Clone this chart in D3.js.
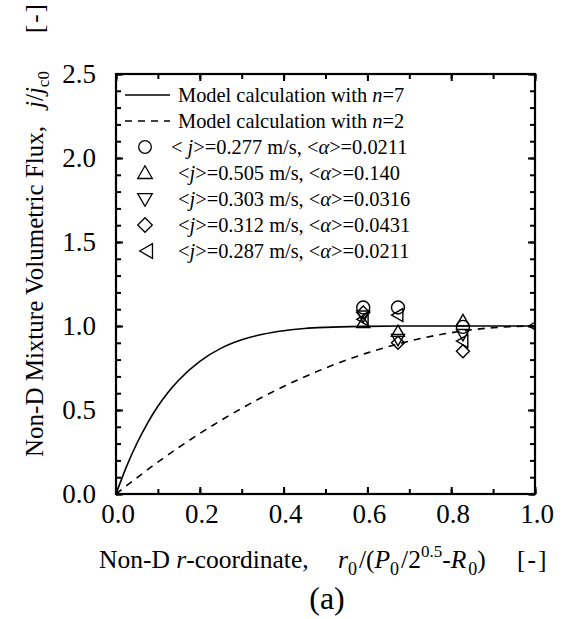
<!DOCTYPE html>
<html><head><meta charset="utf-8">
<script src="https://cdn.jsdelivr.net/npm/d3@7"></script>
<style>
body{margin:0;background:#fff}
svg text{font-family:"Liberation Serif","Times New Roman",serif;fill:#000;white-space:pre}
</style></head>
<body><svg id="c" width="564" height="619"></svg>
<script>
// ---- data ----
const xTicksMajor = [0.0, 0.2, 0.4, 0.6, 0.8, 1.0];
const yTicksMajor = [0.0, 0.5, 1.0, 1.5, 2.0, 2.5];
// curve n=7
const curveN7X = [0, 0.025, 0.05, 0.075, 0.1, 0.125, 0.15, 0.2, 0.25, 0.3, 0.35, 0.4, 0.45, 0.5, 0.6, 0.7, 0.8, 0.9, 1.0];
const curveN7Y = [0, 0.163, 0.302, 0.421, 0.522, 0.607, 0.679, 0.790, 0.867, 0.918, 0.951, 0.972, 0.985, 0.992, 0.998, 1.0, 1.0, 1.0, 1.0];
// curve n=2
const curveN2X = [0, 0.1, 0.2, 0.3, 0.4, 0.5, 0.6, 0.7, 0.8, 0.9, 1.0];
const curveN2Y = [0, 0.19, 0.36, 0.51, 0.64, 0.75, 0.84, 0.91, 0.96, 0.99, 1.0];
// measurement positions
const measX = [0.59, 0.673, 0.828, 1.0];
const circleY   = [1.11, 1.11, 0.995, null];  // <j>=0.277
const upTriY    = [1.02, 0.967, 1.03, null];  // <j>=0.505
const downTriY  = [1.06, 0.92, 0.95, null];   // <j>=0.303
const diamondY  = [1.08, 0.90, 0.85, null];   // <j>=0.312
const leftTriY  = [1.04, 1.065, 0.91, 1.0];   // <j>=0.287
const seriesNames = ["circle","up","down","diamond","left"];
const seriesVals = [circleY, upTriY, downTriY, diamondY, leftTriY];
const legendJ = ["0.277","0.505","0.303","0.312","0.287"];
const legendA = ["0.0211","0.140","0.0316","0.0431","0.0211"];

// ---- layout ----
const svg = d3.select("#c");
const L=116, R=535, T=74, B=494;
const x = d3.scaleLinear().domain([0,1]).range([L,R]);
const y = d3.scaleLinear().domain([0,2.5]).range([B,T]);

svg.append("clipPath").attr("id","plotclip").append("rect")
  .attr("x",L).attr("y",T).attr("width",R-L).attr("height",B-T);

function marker(type, s){
  if(type==="circle") return `M${s},0A${s},${s} 0 1,1 ${-s},0A${s},${s} 0 1,1 ${s},0Z`;
  if(type==="up") return `M0,${-s}L${s},${s*0.75}L${-s},${s*0.75}Z`;
  if(type==="down") return `M0,${s}L${s},${-s*0.75}L${-s},${-s*0.75}Z`;
  if(type==="left") return `M${-s},0L${s*0.75},${-s}L${s*0.75},${s}Z`;
  if(type==="diamond") return `M0,${-s}L${s},0L0,${s}L${-s},0Z`;
}

// curves
const line = d3.line().x(d=>x(d[0])).y(d=>y(d[1])).curve(d3.curveMonotoneX);
svg.append("path").datum(curveN7X.map((v,i)=>[v,curveN7Y[i]]))
  .attr("d",line).attr("fill","none").attr("stroke","#000").attr("stroke-width",1.6);
svg.append("path").datum(curveN2X.map((v,i)=>[v,curveN2Y[i]]))
  .attr("d",line).attr("fill","none").attr("stroke","#000").attr("stroke-width",1.6)
  .attr("stroke-dasharray","7,6");

// markers
const mg = svg.append("g").attr("clip-path","url(#plotclip)");
seriesNames.forEach((nm,k)=>{
  mg.append("g").selectAll("path")
    .data(measX.map((v,i)=>[v,seriesVals[k][i]]).filter(d=>d[1]!==null))
    .enter().append("path")
    .attr("transform",d=>`translate(${x(d[0])},${y(d[1])})`)
    .attr("d",marker(nm,6.5)).attr("fill","none").attr("stroke","#000").attr("stroke-width",1.4);
});

// axes
const fmt = d3.format(".1f");
const minorX = d3.range(0,1.0001,0.1);
const minorY = d3.range(0,2.5001,0.1);
function styleAxis(g){ g.select(".domain").remove(); g.selectAll("line").attr("stroke","#000").attr("stroke-width",2); }
svg.append("g").attr("transform",`translate(0,${B})`)
  .call(d3.axisBottom(x).tickValues(minorX).tickSize(-5).tickFormat("")).call(styleAxis);
svg.append("g").attr("transform",`translate(0,${T})`)
  .call(d3.axisTop(x).tickValues(minorX).tickSize(-5).tickFormat("")).call(styleAxis);
svg.append("g").attr("transform",`translate(${L},0)`)
  .call(d3.axisLeft(y).tickValues(minorY).tickSize(-5).tickFormat("")).call(styleAxis);
svg.append("g").attr("transform",`translate(${R},0)`)
  .call(d3.axisRight(y).tickValues(minorY).tickSize(-5).tickFormat("")).call(styleAxis);
svg.append("g").attr("transform",`translate(0,${B})`)
  .call(d3.axisBottom(x).tickValues(xTicksMajor).tickSize(-7).tickFormat("")).call(styleAxis);
svg.append("g").attr("transform",`translate(0,${T})`)
  .call(d3.axisTop(x).tickValues(xTicksMajor).tickSize(-7).tickFormat("")).call(styleAxis);
svg.append("g").attr("transform",`translate(${L},0)`)
  .call(d3.axisLeft(y).tickValues(yTicksMajor).tickSize(-7).tickFormat("")).call(styleAxis);
svg.append("g").attr("transform",`translate(${R},0)`)
  .call(d3.axisRight(y).tickValues(yTicksMajor).tickSize(-7).tickFormat("")).call(styleAxis);

svg.append("rect").attr("x",L).attr("y",T).attr("width",R-L).attr("height",B-T)
  .attr("fill","none").attr("stroke","#000").attr("stroke-width",2.2);

// tick labels
svg.append("g").selectAll("text").data(xTicksMajor).enter().append("text")
  .attr("x",d=>x(d)+2).attr("y",B+29).attr("text-anchor","middle").attr("font-size",27).text(fmt);
svg.append("g").selectAll("text").data(yTicksMajor).enter().append("text")
  .attr("x",L-20).attr("y",d=>y(d)+9).attr("text-anchor","end").attr("font-size",27).text(fmt);

// legend
const lg = svg.append("g");
const rowY = [95,121,147,173,199,225,251];
lg.append("line").attr("x1",125).attr("x2",170).attr("y1",rowY[0]).attr("y2",rowY[0]).attr("stroke","#000").attr("stroke-width",1.6);
lg.append("line").attr("x1",125).attr("x2",170).attr("y1",rowY[1]).attr("y2",rowY[1]).attr("stroke","#000").attr("stroke-width",1.6).attr("stroke-dasharray","7,6");
[0,1].forEach(i=>{
  const t = lg.append("text").attr("x",178).attr("y",rowY[i]+7).attr("font-size",20.4);
  t.append("tspan").text("Model calculation with ");
  t.append("tspan").attr("font-style","italic").text("n");
  t.append("tspan").text(i===0?"=7":"=2");
});
seriesNames.forEach((nm,k)=>{
  const yy = rowY[k+2];
  lg.append("path").attr("transform",`translate(${nm==="left"?147:145},${yy})`)
    .attr("d",marker(nm,nm==="circle"?6.3:7.3)).attr("fill","none").attr("stroke","#000").attr("stroke-width",1.3);
  const t = lg.append("text").attr("x",k===0?171:178).attr("y",yy+7).attr("font-size",20.4);
  t.append("tspan").text(k===0?"< ":"<");
  t.append("tspan").attr("font-style","italic").text("j");
  t.append("tspan").text(">=" + legendJ[k] + " m/s, <");
  t.append("tspan").attr("font-style","italic").text("α");
  t.append("tspan").text(">=" + legendA[k]);
});

// x title
const xt = svg.append("text").attr("x",99).attr("y",568).attr("font-size",25.5);
xt.append("tspan").text("Non-D ");
xt.append("tspan").attr("font-style","italic").text("r");
xt.append("tspan").text("-coordinate,");
xt.append("tspan").attr("x",338).attr("font-style","italic").text("r");
xt.append("tspan").attr("font-size",18).attr("dy",7).text("0");
xt.append("tspan").attr("dy",-7).attr("dx",2).text("/(");
xt.append("tspan").attr("font-style","italic").text("P");
xt.append("tspan").attr("font-size",18).attr("dy",7).text("0");
xt.append("tspan").attr("dy",-7).attr("dx",2).text("/2");
xt.append("tspan").attr("font-size",17).attr("dy",-11).text("0.5");
xt.append("tspan").attr("dy",11).text("-");
xt.append("tspan").attr("font-style","italic").text("R");
xt.append("tspan").attr("font-size",18).attr("dy",7).attr("dx",2).text("0");
xt.append("tspan").attr("dy",-7).text(")");
xt.append("tspan").attr("x",517).attr("letter-spacing",2).text("[-]");

// y title
const yt = svg.append("text").attr("transform","translate(43,457) rotate(-90)").attr("font-size",25);
yt.append("tspan").text("Non-D Mixture Volumetric Flux,");
yt.append("tspan").attr("dx",18).attr("font-style","italic").text("j");
yt.append("tspan").text("/");
yt.append("tspan").attr("font-style","italic").text("j");
yt.append("tspan").attr("font-size",17).attr("dy",6).text("c0");
yt.append("tspan").attr("dy",-6).attr("dx",38).attr("letter-spacing",2).text("[-]");

// panel label
svg.append("text").attr("x",327).attr("y",609).attr("text-anchor","middle").attr("font-size",32).text("(a)");
</script></body></html>
